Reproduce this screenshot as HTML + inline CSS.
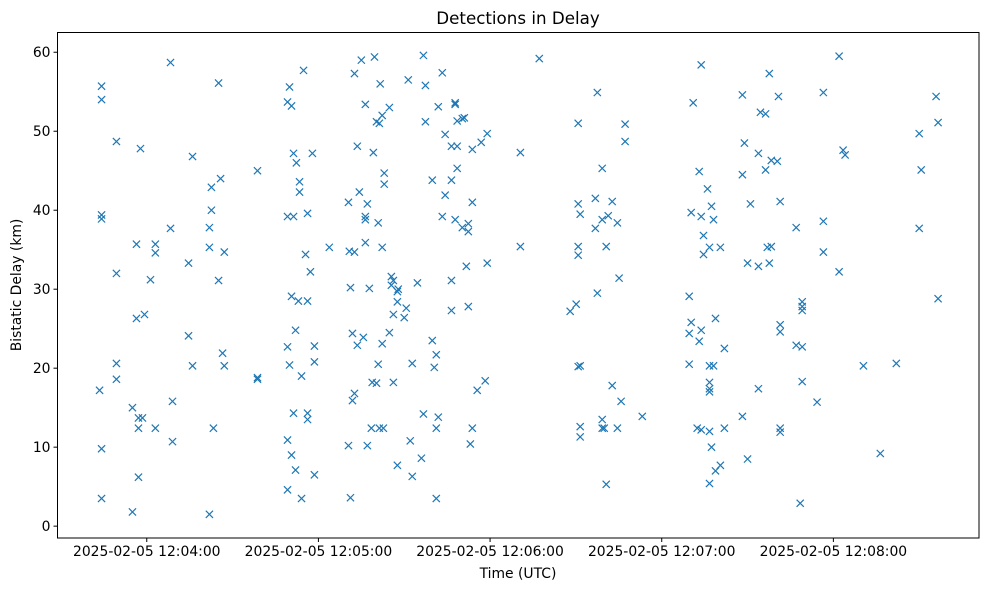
<!DOCTYPE html>
<html><head><meta charset="utf-8"><style>
body{margin:0;background:#fff;font-family:"Liberation Sans","DejaVu Sans",sans-serif;}
svg text{font-family:"DejaVu Sans","Liberation Sans",sans-serif;fill:#000;}
</style></head><body>
<svg id="chart" width="989" height="590" viewBox="0 0 989 590" xmlns="http://www.w3.org/2000/svg">
<rect width="989" height="590" fill="#fff"/>
<text x="518" y="24" font-size="16.7" text-anchor="middle">Detections in Delay</text>
<text x="518" y="578" font-size="13.9" text-anchor="middle">Time (UTC)</text>
<text x="21" y="285" font-size="13.9" text-anchor="middle" transform="rotate(-90 21 285)">Bistatic Delay (km)</text>
<g id="marks"></g>
<g id="axes"></g>
<rect x="57.5" y="32.5" width="921.5" height="505.5" fill="none" stroke="#000" stroke-width="1"/>
</svg>
<script>
// seconds after 12:04:00 UTC for each column of detections
const groupTimes = [-15.8,-16.5,-10.6,-5.0,-3.6,-2.9,-2.2,-1.5,-0.8,1.3,3.0,8.3,9.0,14.6,16.0,21.9,22.6,23.3,25.1,25.8,26.5,27.1,38.7,
49.2,49.9,50.6,51.3,52.0,52.3,53.4,53.0,54.1,54.8,55.5,56.2,57.2,57.9,58.6,63.8,70.5,70.8,71.2,71.9,72.6,73.6,74.3,75.0,75.7,76.4,77.1,77.8,78.5,78.8,79.2,79.6,80.3,81.3,80.9,81.6,82.3,82.7,83.0,84.8,85.5,86.2,87.6,87.9,90.0,90.7,91.4,92.1,92.8,94.6,96.0,96.7,97.4,99.8,100.5,101.2,101.9,103.3,104.3,106.5,107.8,108.5,110.3,111.0,112.4,113.1,113.8,115.5,116.9,118.3,119.0,111.7,
130.6,137.2,148.0,150.1,150.8,151.5,156.8,157.5,159.2,159.9,160.6,161.3,162.7,164.5,165.1,165.8,167.2,173.2,
189.6,190.3,191.0,192.4,193.1,193.8,194.6,196.0,196.7,197.4,198.1,198.8,200.5,201.9,208.2,208.9,210.0,211.0,213.8,214.5,216.3,216.9,217.6,218.3,220.4,220.8,221.4,227.0,228.4,229.1,234.3,236.5,242.0,243.4,244.1,250.5,256.4,262.0,270.0,270.7,275.9,276.6];
// bistatic delays (km) detected at each time above
const groupDelays = [[55.7,54.0,39.4,38.9,9.8,3.5],[17.2],[48.7,32.0,20.6,18.6],[15.0,1.8],[35.7,26.3],[13.7,12.4,6.2],[47.8],[13.7],[26.8],[31.2],[35.7,34.6,12.4],[58.7,37.7],[15.8,10.7],[33.3,24.1],[46.8,20.3],[37.8,35.3,1.5],[42.9,40.0],[12.4],[56.1,31.1],[44.0],[21.9],[34.7,20.3],[45.0,18.8,18.6],
[53.7,39.2,22.7,10.9,4.6],[55.6,20.4],[53.2,29.1,9.0],[47.2,39.2,14.3],[24.8,7.1],[46.0],[43.6,42.3],[28.5],[19.0,3.5],[57.7],[34.4],[39.6,28.5,14.3,13.5],[32.2],[47.2],[22.8,20.8,6.5],[35.3],[41.0,10.2],[34.8],[30.2,3.6],[24.4,15.9],[57.3,34.7,16.8],[48.1,22.9],[42.3],[59.0],[23.9],[53.4,39.2,38.8,35.9],[40.8,10.2],[30.1],[12.4],[18.2],[47.3],[59.4],[51.2,18.1],[51.0,12.4],[38.4,20.5],[56.0],[52.0,35.3,23.1],[12.4],[44.7,43.3],[53.0,24.5],[31.6,30.5],[31.1,26.8,18.2],[29.7,28.4,7.7],[30.0],[26.4],[27.6],[56.5],[10.8],[20.6,6.3],[30.8],[8.6],[59.6,14.2],[55.8,51.2],[43.8,23.5],[20.1],[21.7,12.4,3.5],[53.1,13.8],[57.4,39.2],[49.6,41.9],[48.1,43.8,31.1,27.3],[53.6,53.4,38.8],[51.3,48.1,45.3],[51.6,37.8],[51.7],[38.3,37.3,27.8],[10.4],[47.7,41.0,12.4],[17.2],[48.6],[18.4],[49.7,33.3],[32.9],
[47.3,35.4],[59.2],[27.2],[28.1],[51.0,40.8,35.4,34.3,20.2],[39.5,20.3,12.6,11.3],[41.5,37.7],[54.9,29.5],[45.3,38.8,13.5,12.4],[12.4],[35.4,5.3],[39.3],[41.1,17.8],[38.4,12.4],[31.4],[15.8],[50.9,48.7],[13.9],
[29.1,24.4,20.5],[39.7,25.8],[53.6],[12.4],[44.9,23.4],[58.4,39.2,24.8,12.2],[36.8,34.4],[42.7],[35.3,20.3,18.2,17.4,17.0,12.0,5.4],[40.5,10.0],[38.8,20.3],[26.3,7.0],[35.3,7.7],[22.5,12.4],[54.6,44.5,13.9],[48.5],[33.3,8.5],[40.8],[47.2,32.9,17.4],[52.4],[52.2,45.1],[35.3],[57.3,33.3],[46.3,35.4],[46.2],[54.4],[41.1,25.5,24.6,12.4,11.9],[37.8,22.9],[2.9],[28.4,27.8,27.3,22.7,18.3],[15.7],[54.9,38.6,34.7],[59.5,32.2],[47.6],[47.0],[20.3],[9.2],[20.6],[49.7,37.7],[45.1],[54.4],[51.1,28.8]];
const yTicks = [0,10,20,30,40,50,60];
const xTicks = [0,60,120,180,240];
const xTickLabels = ["2025-02-05 12:04:00","2025-02-05 12:05:00","2025-02-05 12:06:00","2025-02-05 12:07:00","2025-02-05 12:08:00"];

const NS="http://www.w3.org/2000/svg";
const L=57.5,R=979,T=32.5,B=538;
const xMin=-31.2,xMax=290.9,yMin=-1.5,yMax=62.5;
function xs(t){return L+(t-xMin)/(xMax-xMin)*(R-L);}
function ys(v){return B-(v-yMin)/(yMax-yMin)*(B-T);}
const marks=document.getElementById('marks');
const axes=document.getElementById('axes');
groupTimes.forEach(function(t,gi){
  groupDelays[gi].forEach(function(v,j){
    const cx=xs(t),cy=ys(v),s=3.6;
    const p=document.createElementNS(NS,'path');
    p.setAttribute('d','M'+(cx-s)+' '+(cy-s)+'L'+(cx+s)+' '+(cy+s)+'M'+(cx-s)+' '+(cy+s)+'L'+(cx+s)+' '+(cy-s));
    p.setAttribute('stroke','#1f77b4');p.setAttribute('stroke-width','1.2');p.setAttribute('fill','none');
    
    
    marks.appendChild(p);
  });
});
yTicks.forEach(function(v){
  const y=ys(v);
  const l=document.createElementNS(NS,'line');
  l.setAttribute('x1',L-4);l.setAttribute('x2',L);l.setAttribute('y1',y);l.setAttribute('y2',y);l.setAttribute('stroke','#000');
  
  
  axes.appendChild(l);
  const tx=document.createElementNS(NS,'text');
  tx.setAttribute('x',L-7);tx.setAttribute('y',y+5);tx.setAttribute('font-size','13.9');tx.setAttribute('text-anchor','end');
  tx.textContent=v;
  
  
  axes.appendChild(tx);
});
xTicks.forEach(function(t,i){
  const x=xs(t);
  const l=document.createElementNS(NS,'line');
  l.setAttribute('x1',x);l.setAttribute('x2',x);l.setAttribute('y1',B);l.setAttribute('y2',B+4);l.setAttribute('stroke','#000');
  
  
  axes.appendChild(l);
  const tx=document.createElementNS(NS,'text');
  tx.setAttribute('x',x);tx.setAttribute('y',B+18);tx.setAttribute('font-size','13.9');tx.setAttribute('text-anchor','middle');
  tx.textContent=xTickLabels[i];
  
  
  axes.appendChild(tx);
});
</script>
</body></html>
